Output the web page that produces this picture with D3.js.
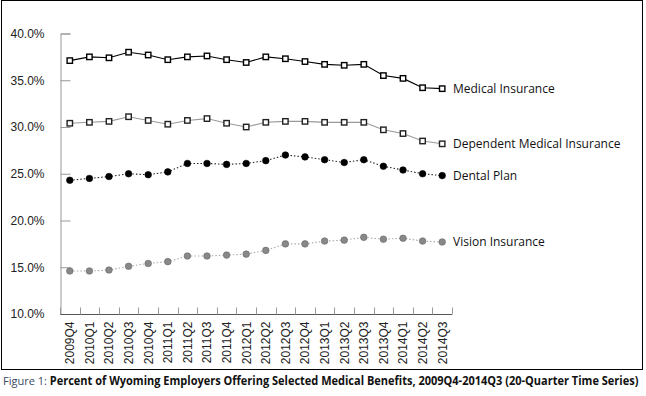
<!DOCTYPE html>
<html>
<head>
<meta charset="utf-8">
<script src="https://cdn.jsdelivr.net/npm/d3@7"></script>
<style>
  body { margin: 0; background: #fff; }
  svg { display: block; }
</style>
</head>
<body>
<svg id="chart" width="646" height="396"></svg>
<script>
const quarters = ["2009Q4","2010Q1","2010Q2","2010Q3","2010Q4","2011Q1","2011Q2","2011Q3",
  "2011Q4","2012Q1","2012Q2","2012Q3","2012Q4","2013Q1","2013Q2","2013Q3",
  "2013Q4","2014Q1","2014Q2","2014Q3"];
const medical = [37.1,37.5,37.4,38.0,37.7,37.2,37.5,37.6,37.2,36.9,37.5,37.3,37.0,36.7,36.6,36.7,35.5,35.2,34.2,34.1];
const dependent = [30.4,30.5,30.6,31.1,30.7,30.3,30.7,30.9,30.4,30.0,30.5,30.6,30.6,30.5,30.5,30.5,29.7,29.3,28.5,28.2];
const dental = [24.3,24.5,24.7,25.0,24.9,25.2,26.1,26.1,26.0,26.1,26.4,27.0,26.8,26.5,26.2,26.5,25.8,25.4,25.0,24.8];
const vision = [14.6,14.6,14.7,15.1,15.4,15.6,16.2,16.2,16.3,16.4,16.8,17.5,17.5,17.8,17.9,18.2,18.0,18.1,17.8,17.7];
const yTicks = [10, 15, 20, 25, 30, 35, 40];
const seriesNames = ["Medical Insurance", "Dependent Medical Insurance", "Dental Plan", "Vision Insurance"];

const svg = d3.select("#chart");

// frame
svg.append("rect")
  .attr("x", 1.5).attr("y", 0.5)
  .attr("width", 641).attr("height", 369)
  .attr("fill", "none").attr("stroke", "#000").attr("stroke-width", 1);

const x = d3.scaleBand().domain(quarters).range([60, 452]);
const y = d3.scaleLinear().domain([10, 40]).range([314, 33.5]);

// y axis
const yAxis = svg.append("g")
  .attr("transform", "translate(60.5,0)")
  .call(d3.axisLeft(y).tickValues(yTicks).tickSize(-10).tickPadding(16)
    .tickFormat(d => d3.format(".1f")(d) + "%"));
yAxis.select(".domain").attr("stroke", "#999");
yAxis.selectAll(".tick line").attr("stroke", "#999");
yAxis.selectAll("text")
  .attr("font-family", "Liberation Sans, Arial, sans-serif")
  .attr("font-size", 12).attr("fill", "#222");

// x axis: ticks on band boundaries, labels rotated
const xg = svg.append("g").attr("transform", "translate(0,314.5)");
xg.append("line").attr("x1", 60).attr("x2", 452).attr("stroke", "#555");
xg.selectAll("line.tk")
  .data(quarters.concat(["end"]))
  .join("line")
  .attr("class", "tk")
  .attr("x1", (d, i) => Math.round(60 + i * x.step()) + 0.5)
  .attr("x2", (d, i) => Math.round(60 + i * x.step()) + 0.5)
  .attr("y1", 0).attr("y2", -7)
  .attr("stroke", "#999");
xg.selectAll("text")
  .data(quarters)
  .join("text")
  .attr("transform", d => `translate(${x(d) + x.bandwidth() / 2},7) rotate(-90)`)
  .attr("dy", "0.36em")
  .attr("text-anchor", "end")
  .attr("font-family", "Liberation Sans, Arial, sans-serif")
  .attr("font-size", 12).attr("fill", "#222")
  .text(d => d);

const cx = (d, i) => x(quarters[i]) + x.bandwidth() / 2;
const line = d3.line().x(cx).y(d => y(d));

const styles = [
  { data: medical, line: "#000", dash: null, marker: "square", fill: "#fff", stroke: "#000" },
  { data: dependent, line: "#999", dash: null, marker: "square", fill: "#fff", stroke: "#222" },
  { data: dental, line: "#222", dash: "1.5,2", marker: "circle", fill: "#000", stroke: "#000" },
  { data: vision, line: "#aaa", dash: "1.5,2", marker: "circle", fill: "#888", stroke: "#666" }
];

styles.forEach((s, k) => {
  const g = svg.append("g");
  g.append("path")
    .attr("d", line(s.data))
    .attr("fill", "none")
    .attr("stroke", s.line)
    .attr("stroke-width", 1.1)
    .attr("stroke-dasharray", s.dash);
  if (s.marker === "square") {
    g.selectAll("rect").data(s.data).join("rect")
      .attr("x", (d, i) => cx(d, i) - 2.7).attr("y", d => y(d) - 2.7)
      .attr("width", 5.4).attr("height", 5.4)
      .attr("fill", s.fill).attr("stroke", s.stroke).attr("stroke-width", 1.4);
  } else {
    g.selectAll("circle").data(s.data).join("circle")
      .attr("cx", cx).attr("cy", d => y(d))
      .attr("r", 3.3)
      .attr("fill", s.fill).attr("stroke", s.stroke).attr("stroke-width", 0.6);
  }
  g.append("text")
    .attr("x", 453).attr("y", y(s.data[s.data.length - 1]))
    .attr("dy", "0.35em")
    .attr("font-family", "Open Sans, sans-serif")
    .attr("font-size", 12).attr("fill", "#111")
    .text(seriesNames[k]);
});

// caption, squeezed horizontally to fit the width like the condensed original
const cap = svg.append("text")
  .attr("font-family", "Open Sans, sans-serif")
  .attr("font-size", 11.5);
cap.append("tspan").attr("fill", "#3a4a66").text("Figure 1: ");
cap.append("tspan").attr("font-weight", "bold").attr("fill", "#111")
  .text("Percent of Wyoming Employers Offering Selected Medical Benefits, 2009Q4-2014Q3 (20-Quarter Time Series)");
const capW = cap.node().getComputedTextLength();
cap.attr("transform", `translate(3,385) scale(${Math.min(1, 636 / capW)},1)`);
</script>
</body>
</html>
